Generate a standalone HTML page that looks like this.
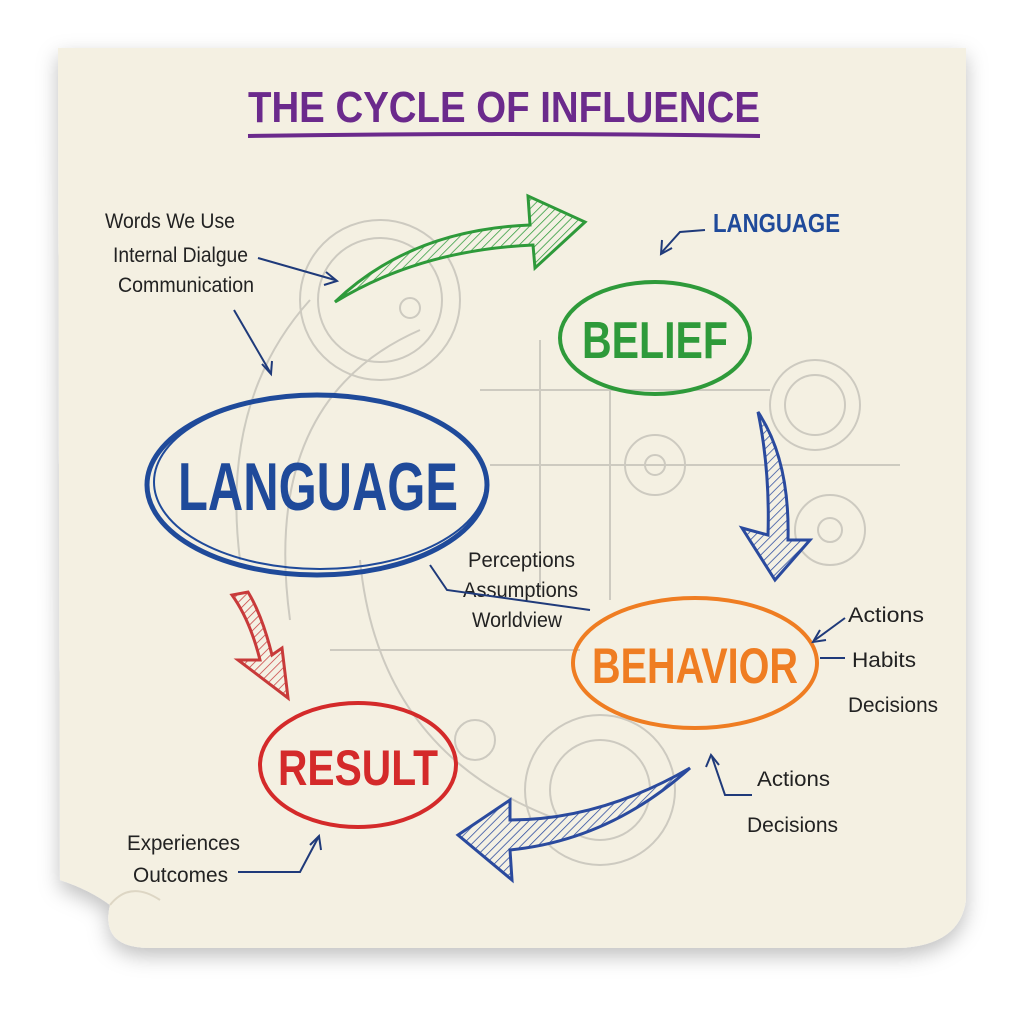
<!DOCTYPE html>
<html><head><meta charset="utf-8"><style>
html,body{margin:0;padding:0;background:#fff;width:1024px;height:1024px;overflow:hidden}
svg{display:block}
text{font-family:"Liberation Sans",sans-serif}
</style></head><body>
<svg width="1024" height="1024" viewBox="0 0 1024 1024" xmlns="http://www.w3.org/2000/svg">
<defs>
<pattern id="hg" width="6" height="6" patternUnits="userSpaceOnUse" patternTransform="rotate(45)"><rect width="6" height="6" fill="#f4f1e4"/><line x1="0" y1="0" x2="0" y2="6" stroke="#2e9a3a" stroke-width="1.5"/></pattern>
<pattern id="hb" width="6" height="6" patternUnits="userSpaceOnUse" patternTransform="rotate(45)"><rect width="6" height="6" fill="#f4f1e4"/><line x1="0" y1="0" x2="0" y2="6" stroke="#2a4a9e" stroke-width="1.5"/></pattern>
<pattern id="hr" width="6" height="6" patternUnits="userSpaceOnUse" patternTransform="rotate(45)"><rect width="6" height="6" fill="#f4f1e4"/><line x1="0" y1="0" x2="0" y2="6" stroke="#c83a3a" stroke-width="1.5"/></pattern>
<filter id="sh" x="-10%" y="-10%" width="120%" height="130%"><feDropShadow dx="0" dy="8" stdDeviation="10" flood-color="#000" flood-opacity="0.25"/></filter>
</defs>
<path d="M58 48 L966 48 L966 900 Q960 945 900 948 L150 948 Q100 948 110 905 Q90 890 60 880 Z" fill="#f4f0e2" filter="url(#sh)"/>
<path d="M110 905 Q130 880 160 900" fill="none" stroke="#ddd6c4" stroke-width="2"/>
<g fill="none" stroke="#c9c6bd" stroke-width="2" opacity="0.9">
<circle cx="380" cy="300" r="80"/><circle cx="380" cy="300" r="62"/><circle cx="410" cy="308" r="10"/>
<circle cx="655" cy="465" r="30"/><circle cx="655" cy="465" r="10"/>
<circle cx="815" cy="405" r="45"/><circle cx="815" cy="405" r="30"/>
<circle cx="830" cy="530" r="35"/><circle cx="830" cy="530" r="12"/>
<circle cx="600" cy="790" r="75"/><circle cx="600" cy="790" r="50"/>
<circle cx="475" cy="740" r="20"/>
<path d="M290 620 Q260 400 420 330"/><path d="M240 560 Q220 400 310 300"/>
<line x1="490" y1="465" x2="900" y2="465"/><line x1="330" y1="650" x2="580" y2="650"/><line x1="480" y1="390" x2="770" y2="390"/>
<line x1="610" y1="390" x2="610" y2="600"/><line x1="540" y1="340" x2="540" y2="590"/>
<path d="M360 560 Q380 770 590 830"/>
</g>
<text x="248" y="122" textLength="512" lengthAdjust="spacingAndGlyphs" font-size="44" font-weight="bold" fill="#6b2a8c">THE CYCLE OF INFLUENCE</text>
<path d="M248 136 Q500 132 760 136" stroke="#6b2a8c" stroke-width="4" fill="none"/>
<ellipse cx="317" cy="485" rx="170" ry="90" fill="none" stroke="#1f4a9a" stroke-width="5"/>
<ellipse cx="320" cy="482" rx="166" ry="87" fill="none" stroke="#1f4a9a" stroke-width="2"/>
<text x="178" y="510" textLength="280" lengthAdjust="spacingAndGlyphs" font-size="68" font-weight="bold" fill="#1f4a9a">LANGUAGE</text>
<ellipse cx="655" cy="338" rx="95" ry="56" fill="none" stroke="#2e9a3a" stroke-width="4"/>
<text x="582" y="358" textLength="146" lengthAdjust="spacingAndGlyphs" font-size="52" font-weight="bold" fill="#2e9a3a">BELIEF</text>
<ellipse cx="695" cy="663" rx="122" ry="65" fill="none" stroke="#ef7d22" stroke-width="4"/>
<text x="592" y="683" textLength="206" lengthAdjust="spacingAndGlyphs" font-size="50" font-weight="bold" fill="#ef7d22">BEHAVIOR</text>
<ellipse cx="358" cy="765" rx="98" ry="62" fill="none" stroke="#d42a2a" stroke-width="4"/>
<text x="278" y="785" textLength="160" lengthAdjust="spacingAndGlyphs" font-size="50" font-weight="bold" fill="#d42a2a">RESULT</text>
<path d="M335 302 Q410 230 530 225 L528 196 L585 222 L535 268 L533 245 Q420 250 335 302 Z" fill="url(#hg)" stroke="#2e9a3a" stroke-width="3"/>
<path d="M758 412 Q790 460 788 540 L810 540 L775 580 L742 528 L768 535 Q770 470 758 412 Z" fill="url(#hb)" stroke="#2a4a9e" stroke-width="3"/>
<path d="M690 768 Q600 820 510 820 L510 800 L458 835 L512 880 L510 850 Q610 840 690 768 Z" fill="url(#hb)" stroke="#2a4a9e" stroke-width="3"/>
<path d="M232 595 Q250 620 260 660 L238 660 L288 698 L282 648 L272 655 Q262 615 248 592 Z" fill="url(#hr)" stroke="#c83a3a" stroke-width="3"/>
<g fill="#222" font-size="21" lengthAdjust="spacingAndGlyphs">
<text x="105" y="228" textLength="130" lengthAdjust="spacingAndGlyphs">Words We Use</text>
<text x="113" y="262" textLength="135" lengthAdjust="spacingAndGlyphs">Internal Dialgue</text>
<text x="118" y="292" textLength="136" lengthAdjust="spacingAndGlyphs">Communication</text>
<text x="468" y="567" textLength="107" lengthAdjust="spacingAndGlyphs">Perceptions</text>
<text x="463" y="597" textLength="115" lengthAdjust="spacingAndGlyphs">Assumptions</text>
<text x="472" y="627" textLength="90" lengthAdjust="spacingAndGlyphs">Worldview</text>
<text x="848" y="622" textLength="76" lengthAdjust="spacingAndGlyphs">Actions</text>
<text x="852" y="667" textLength="64" lengthAdjust="spacingAndGlyphs">Habits</text>
<text x="848" y="712" textLength="90" lengthAdjust="spacingAndGlyphs">Decisions</text>
<text x="757" y="786" textLength="73" lengthAdjust="spacingAndGlyphs">Actions</text>
<text x="747" y="832" textLength="91" lengthAdjust="spacingAndGlyphs">Decisions</text>
<text x="127" y="850" textLength="113" lengthAdjust="spacingAndGlyphs">Experiences</text>
<text x="133" y="882" textLength="95" lengthAdjust="spacingAndGlyphs">Outcomes</text>
</g>
<text x="713" y="232" textLength="127" lengthAdjust="spacingAndGlyphs" font-size="26" font-weight="bold" fill="#1f4a9a">LANGUAGE</text>
<g stroke="#1f3a7a" stroke-width="2" fill="none">
<path d="M258 258 L335 280"/><path d="M326 272 L337 281 L324 285"/>
<path d="M234 310 L270 372"/><path d="M262 364 L271 374 L272 361"/>
<path d="M705 230 L680 232 L662 252"/><path d="M662 240 L661 254 L672 248"/>
<path d="M430 565 L447 590 L590 610"/>
<path d="M845 618 L815 640"/><path d="M820 630 L813 642 L826 640"/>
<path d="M820 658 L845 658"/>
<path d="M752 795 L725 795 L712 757"/><path d="M706 767 L711 755 L719 765"/>
<path d="M238 872 L300 872 L318 838"/><path d="M310 845 L319 836 L321 850"/>
</g>
</svg>
</body></html>
